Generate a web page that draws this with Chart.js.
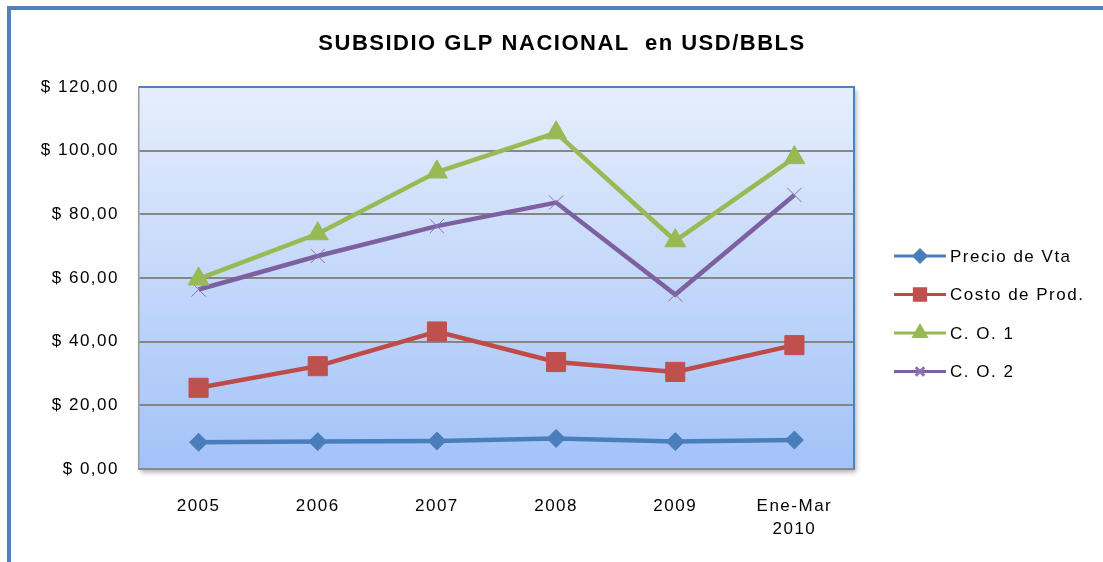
<!DOCTYPE html>
<html>
<head>
<meta charset="utf-8">
<script src="https://cdn.jsdelivr.net/npm/chart.js@4/dist/chart.umd.min.js"></script>
<style>
  html, body { margin: 0; padding: 0; background: #fff; }
  #wrap { position: relative; width: 1103px; height: 562px; overflow: hidden; }
  #marco { position: absolute; left: 7px; top: 6px; width: 1200px; height: 700px;
           border-left: 4px solid #4f81bd; border-top: 4px solid #4f81bd; box-sizing: border-box; }
  canvas { position: absolute; left: 0; top: 0; }
</style>
</head>
<body>
<div id="wrap">
  <div id="marco"></div>
  <canvas id="grafico" width="1103" height="562"></canvas>
</div>
<script>
// Datos
const categorias = ['2005', '2006', '2007', '2008', '2009', ['Ene-Mar', '2010']];
const precioVta = [8.4, 8.6, 8.8, 9.6, 8.6, 9.1];
const costoProd = [25.5, 32.3, 43.2, 33.6, 30.5, 38.9];
const co1 = [59.7, 73.9, 93.3, 105.6, 71.7, 97.8];
const co2 = [56.4, 66.9, 76.3, 83.7, 54.8, 86.1];
const marcasY = [0, 20, 40, 60, 80, 100, 120];

const titulo = 'SUBSIDIO GLP NACIONAL  en USD/BBLS';
const fuente = '"Liberation Sans", Arial, sans-serif';

const colores = {
    precio: '#4a7ebb',
    costo: '#be4b48',
    co1: '#98b954',
    co2: '#7d60a0'
};

// Fondo degradado del area de trazado
const fondoPlugin = {
    id: 'fondo',
    beforeDraw(chart) {
        const { ctx, chartArea: a } = chart;
        ctx.letterSpacing = '1.5px';
        ctx.save();
        ctx.shadowColor = 'rgba(0,0,0,0.35)';
        ctx.shadowBlur = 5;
        ctx.shadowOffsetX = 2;
        ctx.shadowOffsetY = 3;
        const g = ctx.createLinearGradient(0, a.top, 0, a.bottom);
        g.addColorStop(0, '#e5eefc');
        g.addColorStop(1, '#a3c2f8');
        ctx.fillStyle = g;
        ctx.fillRect(a.left, a.top, a.right - a.left, a.bottom - a.top);
        ctx.restore();

        // titulo
        ctx.save();
        ctx.fillStyle = '#000';
        ctx.font = 'bold 22px ' + fuente;
        ctx.letterSpacing = '1.5px';
        ctx.textAlign = 'center';
        ctx.textBaseline = 'middle';
        ctx.fillText(titulo, 562, 44);
        ctx.restore();
    },
    beforeDatasetsDraw(chart) {
        const { ctx, chartArea: a } = chart;
        ctx.save();
        ctx.strokeStyle = '#4f81bd';
        ctx.lineWidth = 2;
        ctx.beginPath();
        ctx.moveTo(a.left, a.top);
        ctx.lineTo(a.right, a.top);
        ctx.lineTo(a.right, a.bottom);
        ctx.stroke();
        ctx.restore();
    }
};

// Leyenda propia (linea con marcador)
const leyendaPlugin = {
    id: 'leyenda',
    afterDraw(chart) {
        const { ctx } = chart;
        const x0 = 894, x1 = 946, y0 = 256, paso = 38.5;
        chart.data.datasets.forEach((ds, i) => {
            const y = y0 + i * paso;
            ctx.save();
            ctx.strokeStyle = ds.borderColor;
            ctx.lineWidth = 3;
            ctx.beginPath();
            ctx.moveTo(x0, y);
            ctx.lineTo(x1, y);
            ctx.stroke();
            ctx.fillStyle = ds.pointBackgroundColor;
            ctx.strokeStyle = ds.pointBorderColor;
            Chart.helpers.drawPoint(ctx, {
                pointStyle: ds.pointStyle,
                rotation: 0,
                radius: ds.leyendaRadio,
                borderWidth: ds.pointBorderWidth
            }, (x0 + x1) / 2, y);
            ctx.fillStyle = '#000';
            ctx.font = '17px ' + fuente;
            ctx.letterSpacing = '1.5px';
            ctx.textAlign = 'left';
            ctx.textBaseline = 'middle';
            ctx.fillText(ds.label, 950, y + 1);
            ctx.restore();
        });
    }
};

function serie(label, data, color, estilo, radio, leyendaRadio, marcaColor, marcaBorde) {
    return {
        label,
        data,
        borderColor: color,
        borderWidth: 4.5,
        pointStyle: estilo,
        pointRadius: radio,
        pointBackgroundColor: marcaColor || color,
        pointBorderColor: marcaColor || color,
        pointBorderWidth: marcaBorde || 1,
        leyendaRadio,
        tension: 0
    };
}

new Chart(document.getElementById('grafico'), {
    type: 'line',
    data: {
        labels: categorias,
        datasets: [
            serie('Precio de Vta', precioVta, colores.precio, 'rectRot', 9, 6),
            serie('Costo de Prod.', costoProd, colores.costo, 'rect', 13.5, 8, '#c0504d'),
            serie('C. O. 1', co1, colores.co1, 'triangle', 12, 7),
            serie('C. O. 2', co2, colores.co2, 'crossRot', 10, 6, '#8a72b4', 1)
        ]
    },
    plugins: [fondoPlugin, leyendaPlugin],
    options: {
        responsive: false,
        animation: false,
        layout: { padding: { top: 87, right: 249, left: 0, bottom: 0 } },
        plugins: {
            legend: { display: false },
            title: { display: false },
            tooltip: { enabled: false }
        },
        scales: {
            y: {
                min: 0,
                max: 120,
                afterFit(scale) { scale.width = 139; },
                afterBuildTicks(scale) { scale.ticks = marcasY.map(v => ({ value: v })); },
                border: { color: '#9a9a9a', width: 1.5 },
                grid: {
                    drawTicks: false,
                    lineWidth: 2,
                    color: c => (c.tick && (c.tick.value === 120 || c.tick.value === 0)) ? 'rgba(0,0,0,0)' : '#868686'
                },
                ticks: {
                    padding: 20,
                    color: '#000',
                    font: { family: fuente, size: 17 },
                    callback: v => '$ ' + v.toFixed(2).replace('.', ',')
                }
            },
            x: {
                offset: true,
                afterFit(scale) { scale.height = 93; },
                border: { color: '#8a8a8a', width: 2 },
                grid: { display: false, drawTicks: false, offset: true },
                ticks: {
                    padding: 26,
                    maxRotation: 0,
                    color: '#000',
                    font: { family: fuente, size: 17, lineHeight: 1.35 }
                }
            }
        }
    }
});
</script>
</body>
</html>
